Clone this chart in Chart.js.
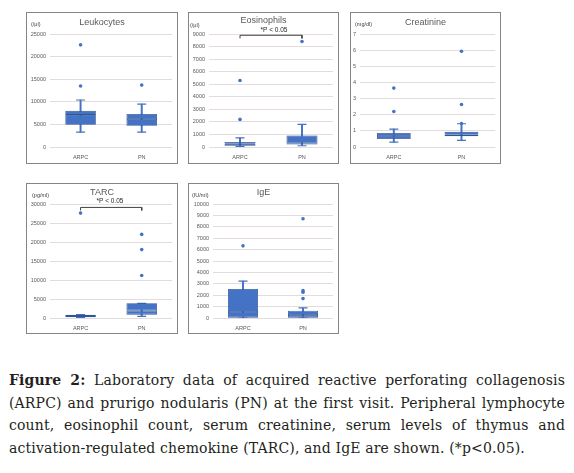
<!DOCTYPE html>
<html>
<head>
<meta charset="utf-8">
<script src="https://cdn.jsdelivr.net/npm/chart.js@4.4.0/dist/chart.umd.min.js"></script>
<style>
  html, body { margin: 0; padding: 0; background: #ffffff; }
  body { width: 574px; height: 473px; position: relative; overflow: hidden; }
  .panel { position: absolute; }
  .frame { position: absolute; box-sizing: border-box; border: 1px solid #858585; pointer-events: none; }
  .title { position: absolute; text-align: center; font-family: "Liberation Sans", Arial, sans-serif; font-size: 9px; color: #595959; line-height: 12px; height: 12px; }
  .unit { position: absolute; font-family: "Liberation Sans", Arial, sans-serif; font-size: 5.5px; color: #404040; line-height: 8px; white-space: nowrap; }
  .pval { position: absolute; text-align: center; font-family: "Liberation Sans", Arial, sans-serif; font-size: 6.5px; color: #262626; line-height: 8px; width: 50px; white-space: nowrap; }
  #caption { position: absolute; left: 9px; top: 369px; width: 556px; font-family: "DejaVu Serif", "Liberation Serif", serif; font-size: 14px; letter-spacing: 0.15px; line-height: 22.7px; color: #231f20; }
  #caption .ln { text-align: justify; text-align-last: justify; }
  #caption .last { text-align: left; }
</style>
</head>
<body>
<script>
// ---------------- DATA ----------------
const categories = ['ARPC', 'PN'];

// Leukocytes (/μl)
const leukoLow = [3300, 3300];
const leukoQ1 = [4900, 4700];
const leukoMedian = [7100, 6200];
const leukoQ3 = [8000, 7300];
const leukoHigh = [10400, 9500];
const leukoOutliersARPC = [13500, 22600];
const leukoOutliersPN = [13700];
const leukoTicks = [0, 5000, 10000, 15000, 20000, 25000];

// Eosinophils (/μl)
const eosLow = [50, 100];
const eosQ1 = [100, 200];
const eosMedian = [250, 300];
const eosQ3 = [400, 920];
const eosHigh = [730, 1800];
const eosOutliersARPC = [2200, 5300];
const eosOutliersPN = [8400];
const eosTicks = [0, 1000, 2000, 3000, 4000, 5000, 6000, 7000, 8000, 9000];
const eosBracket = [8650, 8900];

// Creatinine (mg/dl)
const creaLow = [0.3, 0.41];
const creaQ1 = [0.5, 0.66];
const creaMedian = [0.68, 0.76];
const creaQ3 = [0.87, 0.94];
const creaHigh = [1.11, 1.44];
const creaOutliersARPC = [2.2, 3.65];
const creaOutliersPN = [1.46, 2.63, 5.93];
const creaTicks = [0, 1, 2, 3, 4, 5, 6, 7];

// TARC (pg/ml)
const tarcLow = [150, 440];
const tarcQ1 = [200, 880];
const tarcMedian = [530, 1930];
const tarcQ3 = [880, 3870];
const tarcHigh = [900, 3870];
const tarcOutliersARPC = [27600];
const tarcOutliersPN = [11200, 18000, 22000];
const tarcTicks = [0, 5000, 10000, 15000, 20000, 25000, 30000];
const tarcBracket = [28300, 29100];

// IgE (IU/ml)
const igeLow = [0, 0];
const igeQ1 = [30, 30];
const igeMedian = [520, 260];
const igeQ3 = [2550, 640];
const igeHigh = [3230, 880];
const igeOutliersARPC = [6330];
const igeOutliersPN = [1700, 2260, 2400, 8710];
const igeTicks = [0, 1000, 2000, 3000, 4000, 5000, 6000, 7000, 8000, 9000, 10000];

const pLabel = '*P < 0.05';

// ---------------- BUILD ----------------
const BOX_FILL = '#4472C4';
const BOX_EDGE = '#2F5597';
const WHISK = '#4472C4';

function addDiv(cls, css, text) {
  const d = document.createElement('div');
  d.className = cls;
  Object.assign(d.style, css);
  if (text !== undefined) d.textContent = text;
  document.body.appendChild(d);
  return d;
}

function makePanel(p) {
  const cv = document.createElement('canvas');
  cv.className = 'panel';
  cv.width = p.w; cv.height = p.h;
  cv.style.left = p.left + 'px'; cv.style.top = p.top + 'px';
  cv.style.width = p.w + 'px'; cv.style.height = p.h + 'px';
  document.body.appendChild(cv);
  addDiv('frame', { left: p.left + 'px', top: p.top + 'px', width: p.w + 'px', height: p.h + 'px' });
  addDiv('title', { left: p.left + 'px', top: (p.titleY - 6) + 'px', width: p.w + 'px' }, p.title);
  addDiv('unit', { left: p.unitX + 'px', top: (p.unitY - 4) + 'px' }, p.unit);

  const lowerBox = categories.map((c, i) => [p.q1[i], p.med[i]]);
  const upperBox = categories.map((c, i) => [p.med[i], p.q3[i]]);
  const whisk = categories.map((c, i) => [p.low[i], p.high[i]]);
  const caps = [];
  categories.forEach((c, i) => { caps.push({ x: c, y: p.low[i] }); caps.push({ x: c, y: p.high[i] }); });
  const outs = [];
  p.outA.forEach(v => outs.push({ x: categories[0], y: v }));
  p.outB.forEach(v => outs.push({ x: categories[1], y: v }));

  const datasets = [
    { type: 'bar', data: whisk, backgroundColor: WHISK, barThickness: 1.3, grouped: false, order: 5 },
    { type: 'line', data: caps, showLine: false, pointStyle: 'line', pointRadius: 4.5, pointBorderWidth: 1.2,
      pointBorderColor: WHISK, pointBackgroundColor: WHISK, order: 4 },
    { type: 'bar', data: lowerBox, backgroundColor: BOX_FILL, borderColor: BOX_EDGE, borderWidth: 0.8,
      borderSkipped: false, barPercentage: 0.5, categoryPercentage: 1.0, grouped: false, order: 3 },
    { type: 'bar', data: upperBox, backgroundColor: BOX_FILL, borderColor: BOX_EDGE, borderWidth: 0.8,
      borderSkipped: false, barPercentage: 0.5, categoryPercentage: 1.0, grouped: false, order: 2 },
    { type: 'line', data: outs, showLine: false, pointStyle: 'circle', pointRadius: 1.8, pointBorderWidth: 0,
      pointBackgroundColor: BOX_FILL, pointBorderColor: BOX_FILL, order: 1 }
  ];
  if (p.bracket) {
    datasets.push({ type: 'line', data: [
        { x: categories[0], y: p.bracket[0] }, { x: categories[0], y: p.bracket[1] },
        { x: categories[1], y: p.bracket[1] }, { x: categories[1], y: p.bracket[0] }],
      borderColor: '#404040', borderWidth: 1, pointRadius: 0, tension: 0, fill: false, clip: false, order: 0 });
    addDiv('pval', { left: (p.pX - 25) + 'px', top: (p.pY - 4) + 'px' }, pLabel);
  }

  const ticks = p.ticks;
  new Chart(cv, {
    type: 'bar',
    data: { labels: categories, datasets },
    options: {
      responsive: false, animation: false, devicePixelRatio: 1,
      events: [],
      layout: { padding: { top: p.plotT - p.top, right: (p.left + p.w) - p.plotR, bottom: 0, left: 0 } },
      plugins: { legend: { display: false }, tooltip: { enabled: false }, title: { display: false } },
      scales: {
        x: {
          type: 'category', offset: true,
          grid: { display: false, drawTicks: false },
          border: { display: false },
          ticks: { font: { family: 'Liberation Sans', size: 5.5 }, color: '#595959', padding: 7 },
          afterFit: s => { s.height = (p.top + p.h) - p.plotB; }
        },
        y: {
          min: ticks[0], max: ticks[ticks.length - 1],
          grid: { color: '#e4dcdc', lineWidth: 1, drawTicks: false },
          border: { display: false },
          ticks: { stepSize: ticks[1] - ticks[0], font: { family: 'Liberation Sans', size: 5.5 }, color: '#595959',
                   padding: 4, callback: v => String(v) },
          afterFit: s => { s.width = p.plotL - p.left; }
        }
      }
    }
  });
}

makePanel({ left: 26, top: 12, w: 152, h: 152, plotL: 50, plotR: 173, plotT: 34, plotB: 147,
  title: 'Leukocytes', titleY: 22, unit: '(/μl)', unitX: 31, unitY: 24,
  low: leukoLow, q1: leukoQ1, med: leukoMedian, q3: leukoQ3, high: leukoHigh,
  outA: leukoOutliersARPC, outB: leukoOutliersPN, ticks: leukoTicks });

makePanel({ left: 188, top: 12, w: 151, h: 152, plotL: 209, plotR: 333, plotT: 34, plotB: 147,
  title: 'Eosinophils', titleY: 20, unit: '(/μl)', unitX: 190, unitY: 25,
  low: eosLow, q1: eosQ1, med: eosMedian, q3: eosQ3, high: eosHigh,
  outA: eosOutliersARPC, outB: eosOutliersPN, ticks: eosTicks,
  bracket: eosBracket, pX: 274, pY: 30 });

makePanel({ left: 350, top: 12, w: 151, h: 152, plotL: 360, plotR: 496, plotT: 34, plotB: 147,
  title: 'Creatinine', titleY: 22, unit: '(mg/dl)', unitX: 355, unitY: 24,
  low: creaLow, q1: creaQ1, med: creaMedian, q3: creaQ3, high: creaHigh,
  outA: creaOutliersARPC, outB: creaOutliersPN, ticks: creaTicks });

makePanel({ left: 26, top: 183, w: 152, h: 151, plotL: 50, plotR: 173, plotT: 204, plotB: 318,
  title: 'TARC', titleY: 192, unit: '(pg/ml)', unitX: 32, unitY: 195,
  low: tarcLow, q1: tarcQ1, med: tarcMedian, q3: tarcQ3, high: tarcHigh,
  outA: tarcOutliersARPC, outB: tarcOutliersPN, ticks: tarcTicks,
  bracket: tarcBracket, pX: 110, pY: 201 });

makePanel({ left: 188, top: 183, w: 151, h: 151, plotL: 213, plotR: 333, plotT: 204, plotB: 318,
  title: 'IgE', titleY: 192, unit: '(IU/ml)', unitX: 192, unitY: 195,
  low: igeLow, q1: igeQ1, med: igeMedian, q3: igeQ3, high: igeHigh,
  outA: igeOutliersARPC, outB: igeOutliersPN, ticks: igeTicks });
</script>
<div id="caption"><div class="ln"><b>Figure 2:</b> Laboratory data of acquired reactive perforating collagenosis</div><div class="ln">(ARPC) and prurigo nodularis (PN) at the first visit. Peripheral lymphocyte</div><div class="ln">count, eosinophil count, serum creatinine, serum levels of thymus and</div><div class="last">activation-regulated chemokine (TARC), and IgE are shown. (*p&lt;0.05).</div></div>
</body>
</html>
